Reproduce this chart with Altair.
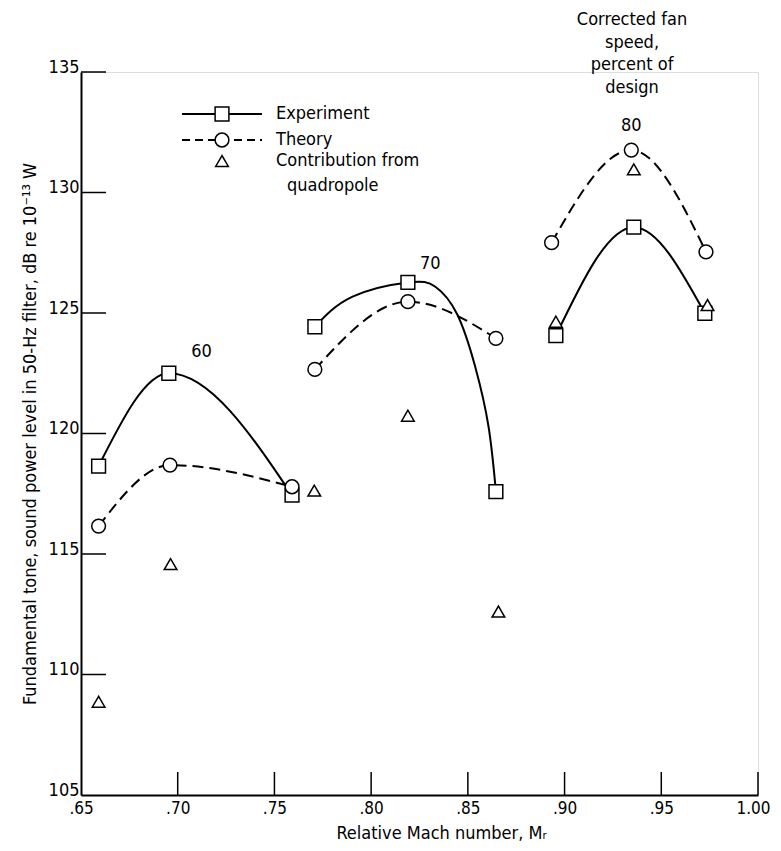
import altair as alt
import pandas as pd

# ---------------- data ----------------
speeds = [60, 60, 60, 70, 70, 70, 80, 80, 80]          # corrected fan speed, % of design
exp_mach = [0.6591, 0.6954, 0.7591, 0.7709, 0.8190, 0.8645, 0.8955, 0.9358, 0.9725]
exp_db = [118.65, 122.50, 117.44, 124.43, 126.27, 117.59, 124.06, 128.56, 124.99]
theory_mach = [0.6591, 0.6960, 0.7591, 0.7709, 0.8190, 0.8645, 0.8933, 0.9345, 0.9731]
theory_db = [116.16, 118.69, 117.79, 122.66, 125.47, 123.95, 127.92, 131.76, 127.54]
quad_mach = [0.6591, 0.6963, 0.7706, 0.8190, 0.8658, 0.8955, 0.9358, 0.9739]
quad_db = [108.87, 114.58, 117.63, 120.74, 112.61, 124.64, 130.96, 125.33]
# faired experiment curve at 70 % speed
exp70_curve_mach = [0.7709, 0.7904, 0.8190, 0.8332, 0.8444, 0.8538, 0.8607, 0.8645]
exp70_curve_db = [124.43, 125.68, 126.27, 126.09, 124.96, 122.77, 120.28, 117.59]
# speed labels placed next to each curve
speed_labels = ["60", "70", "80"]
speed_label_mach = [0.7123, 0.8306, 0.9345]
speed_label_db = [123.4, 127.05, 132.75]

x_tick_values = [0.65, 0.70, 0.75, 0.80, 0.85, 0.90, 0.95, 1.00]
x_tick_labels = [".65", ".70", ".75", ".80", ".85", ".90", ".95", "1.00"]
y_tick_values = [105, 110, 115, 120, 125, 130, 135]

# ---------------- tables ----------------
exp_df = pd.DataFrame({"speed": speeds, "mach": exp_mach, "db": exp_db})
theory_df = pd.DataFrame({"speed": speeds, "mach": theory_mach, "db": theory_db})
quad_df = pd.DataFrame({"mach": quad_mach, "db": quad_db})
exp_curve_df = exp_df[exp_df.speed != 70]
exp70_df = pd.DataFrame({"mach": exp70_curve_mach, "db": exp70_curve_db})
lab_df = pd.DataFrame({"label": speed_labels, "mach": speed_label_mach, "db": speed_label_db})
xtick_df = pd.DataFrame({"mach": x_tick_values[1:]})
ytick_df = pd.DataFrame({"db": y_tick_values[1:]})
one = pd.DataFrame({"k": [0]})

W, H = 677, 723
FONT = "'Liberation Sans Narrow', 'Arial Narrow', 'DejaVu Sans Condensed', 'Roboto Condensed', sans-serif"

xscale = alt.Scale(domain=[0.65, 1.0], nice=False, zero=False)
yscale = alt.Scale(domain=[105, 135], nice=False, zero=False)

label_expr = "[" + ",".join("'%s'" % s for s in x_tick_labels) + "][round((datum.value - 0.65) / 0.05)]"

x_axis = alt.Axis(values=x_tick_values, labelExpr=label_expr, ticks=False, grid=False,
                  domainColor="black", domainWidth=2, labelFont=FONT, labelFontSize=17,
                  labelColor="black", labelPadding=5, labelFlush=True, labelFlushOffset=12,
                  title="Relative Mach number, Mᵣ", titleFont=FONT, titleFontSize=18,
                  titleFontWeight="normal", titleColor="black", titleX=360, titleY=38,
                  titleBaseline="middle", titleAlign="center")
y_axis = alt.Axis(values=y_tick_values, ticks=False, grid=False, domainColor="black",
                  domainWidth=2, labelFont=FONT, labelFontSize=18, labelColor="black",
                  labelPadding=2, labelBaseline="alphabetic", labelOffset=0, labelFlush=False,
                  title="Fundamental tone, sound power level in 50-Hz filter, dB  re 10⁻¹³ W",
                  titleFont=FONT, titleFontSize=18, titleFontWeight="normal", titleColor="black",
                  titleX=-51, titleY=H / 2, titleAngle=-90, titleBaseline="middle", titleAlign="center")

X = alt.X("mach:Q", scale=xscale, axis=x_axis)
Y = alt.Y("db:Q", scale=yscale, axis=y_axis)
Xn = alt.X("mach:Q", scale=xscale)
Yn = alt.Y("db:Q", scale=yscale)

exp_lines = alt.Chart(exp_curve_df).mark_line(
    color="black", strokeWidth=2, interpolate="monotone").encode(x=X, y=Y, detail="speed:N")
exp70_line = alt.Chart(exp70_df).mark_line(
    color="black", strokeWidth=2, interpolate="natural").encode(x=Xn, y=Yn)
theory_lines = alt.Chart(theory_df).mark_line(
    color="black", strokeWidth=2, strokeDash=[11, 6], interpolate="monotone").encode(
    x=Xn, y=Yn, detail="speed:N")
sym = dict(filled=True, fill="white", stroke="black", strokeWidth=1.5, opacity=1)
exp_pts = alt.Chart(exp_df).mark_point(shape="square", size=190, **sym).encode(x=Xn, y=Yn)
theory_pts = alt.Chart(theory_df).mark_point(shape="circle", size=190, **sym).encode(x=Xn, y=Yn)
quad_pts = alt.Chart(quad_df).mark_point(shape="triangle-up", size=160, **sym).encode(x=Xn, y=Yn)
labels = alt.Chart(lab_df).mark_text(font=FONT, fontSize=18, color="black").encode(
    x=Xn, y=Yn, text="label:N")

ytick = alt.Chart(ytick_df).mark_rule(color="black", strokeWidth=1.5).encode(
    y=Yn, x=alt.value(0), x2=alt.value(25))
xtick = alt.Chart(xtick_df).mark_rule(color="black", strokeWidth=1.5).encode(
    x=Xn, y=alt.value(H), y2=alt.value(H - 23))

# ---------------- hand-built legend ----------------
leg = []
leg.append(alt.Chart(one).mark_rule(color="black", strokeWidth=2).encode(
    x=alt.value(101), x2=alt.value(181), y=alt.value(42)))
leg.append(alt.Chart(one).mark_rule(color="black", strokeWidth=2, strokeDash=[8, 5]).encode(
    x=alt.value(101), x2=alt.value(181), y=alt.value(68)))
leg.append(alt.Chart(one).mark_point(shape="square", size=190, **sym).encode(
    x=alt.value(141), y=alt.value(42)))
leg.append(alt.Chart(one).mark_point(shape="circle", size=190, **sym).encode(
    x=alt.value(141), y=alt.value(68)))
leg.append(alt.Chart(one).mark_point(shape="triangle-up", size=160, **sym).encode(
    x=alt.value(141), y=alt.value(89)))
for txt, px, py in [("Experiment", 195, 42), ("Theory", 195, 68),
                    ("Contribution from", 195, 89), ("quadropole", 206, 114)]:
    leg.append(alt.Chart(one).mark_text(font=FONT, fontSize=18, color="black", align="left",
                                        baseline="middle", text=txt).encode(
        x=alt.value(px), y=alt.value(py)))

head = alt.Chart(one).mark_text(font=FONT, fontSize=18, color="black", align="center",
                                baseline="middle", lineBreak="\n", lineHeight=22.7,
                                text="Corrected fan\nspeed,\npercent of\ndesign").encode(
    x=alt.value(551), y=alt.value(-52))

chart = alt.layer(exp_lines, exp70_line, theory_lines, ytick, xtick, exp_pts, theory_pts,
                  quad_pts, labels, head, *leg).properties(
    width=W, height=H,
    autosize=alt.AutoSizeParams(type="none"),
    padding={"left": 73, "top": 64, "right": 15, "bottom": 48},
).configure_view(stroke=None).configure(background="white")

chart.save("out.html", embed_options={"renderer": "svg", "actions": False})
